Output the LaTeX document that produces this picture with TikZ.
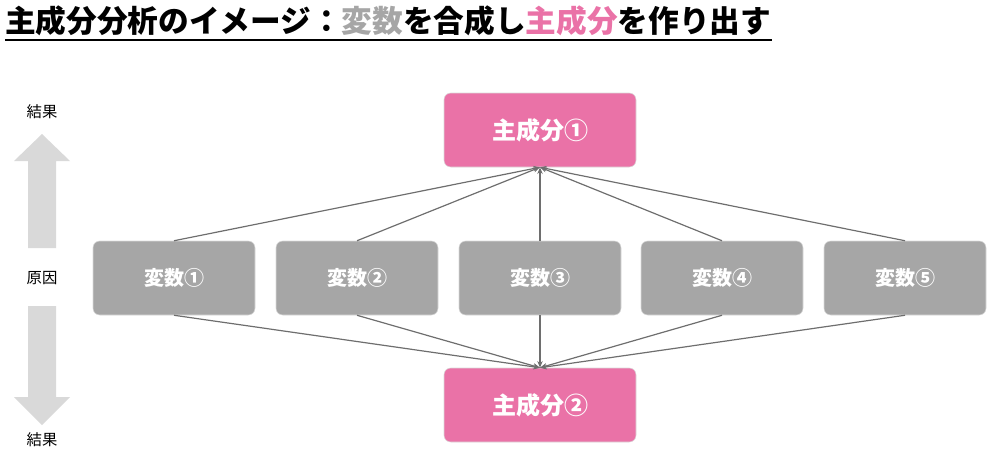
\documentclass[tikz,border=0pt]{standalone}
\usepackage{fontspec}
\setmainfont{Noto Sans CJK JP}
\usetikzlibrary{arrows.meta}
\definecolor{pk}{HTML}{EA72A7}
\definecolor{gr}{HTML}{A6A6A6}
\definecolor{ln}{HTML}{6E6E6E}
\definecolor{lg}{HTML}{D9D9D9}
\begin{document}
\begin{tikzpicture}[x=0.75pt,y=-0.75pt,
 box/.style={rounded corners=5pt,minimum width=121.5pt,minimum height=55.5pt,text=white,font=\fontsize{15}{18}\selectfont\bfseries,inner sep=0pt,draw=white!85!black},
 pc/.style={box,fill=pk,minimum width=144pt,font=\fontsize{18}{20}\selectfont\bfseries},
 vc/.style={box,fill=gr},
 con/.style={draw=ln,line width=0.9pt,-{Stealth[length=5pt,width=4pt]}},
 side/.style={font=\fontsize{11.5}{14}\selectfont},
 bigarr/.style={fill=lg,draw=none}]
\useasboundingbox (0,0) rectangle (996,458);
\node[anchor=west,inner sep=0pt,font=\fontsize{23}{26}\selectfont\bfseries] (title) at (5,21) {主成分分析のイメージ：\textcolor{gr}{変数}を合成し\textcolor{pk}{主成分}を作り出す};
\draw[line width=1.4pt] (5,40) -- (title.east |- 0,40);
\node[pc] (p1) at (540,130) {主成分①};
\node[pc] (p2) at (540,405) {主成分②};
\foreach \i/\x in {1/174,2/357,3/540,4/722,5/905}{
 \node[vc] (v\i) at (\x,278) {変数\ifcase\i\or ①\or ②\or ③\or ④\or ⑤\fi};
 \draw[con] (v\i.north) -- (p1.south);
 \draw[con] (v\i.south) -- (p2.north);
}
\node[side] (r1) at (42,112) {結果};
\node[side] (c) at (42,278) {原因};
\node[side] (r2) at (42,440) {結果};
\fill[bigarr] (28,248) -- (28,161) -- (14,161) -- (42,134) -- (70,161) -- (56,161) -- (56,248) -- cycle;
\fill[bigarr] (28,306) -- (28,397) -- (14,397) -- (42,425) -- (70,397) -- (56,397) -- (56,306) -- cycle;
\end{tikzpicture}
\end{document}
